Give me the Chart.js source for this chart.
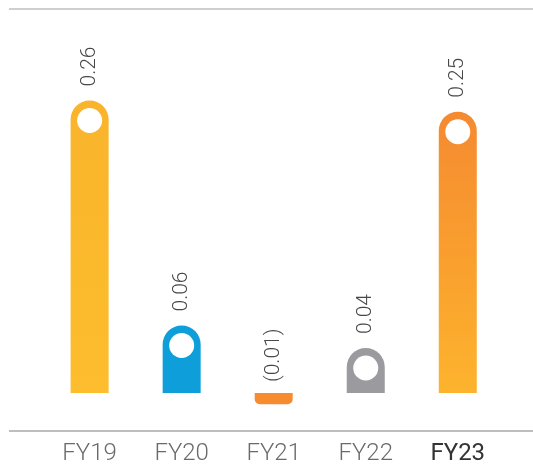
<!DOCTYPE html>
<html><head><meta charset="utf-8">
<script src="https://cdn.jsdelivr.net/npm/chart.js@4"></script>
<style>html,body{margin:0;padding:0;background:#fff}</style>
</head><body>
<canvas id="c" width="533" height="469" style="width:533px;height:469px;display:block"></canvas>
<script>
const categories = ['FY19', 'FY20', 'FY21', 'FY22', 'FY23'];
const values = [0.26, 0.06, -0.01, 0.04, 0.25];
const valueLabels = ['0.26', '0.06', '(0.01)', '0.04', '0.25'];
const topColors = ['#F9B42B', '#0E9FDB', '#F68B30', '#9B9B9F', '#F58A30'];
const bottomColors = ['#FDBD2D', '#0E9FDB', '#F68B30', '#9B9B9F', '#FDB32D'];

const FONT = 'Roboto, "Open Sans", sans-serif';

const decor = {
  id: 'decor',
  afterDraw(chart) {
    const c = chart.ctx;
    c.save();
    c.strokeStyle = '#cfcfcf'; c.lineWidth = 2;
    c.beginPath(); c.moveTo(9, 9); c.lineTo(533, 9); c.stroke();
    c.strokeStyle = '#a8a8a8'; c.lineWidth = 1.5;
    c.beginPath(); c.moveTo(9, 431); c.lineTo(533, 431); c.stroke();
    c.restore();
  },
  afterDatasetsDraw(chart) {
    const c = chart.ctx;
    const meta = chart.getDatasetMeta(0);
    c.save();
    meta.data.forEach((bar, i) => {
      const v = values[i];
      let ly;
      if (v > 0) {
        c.fillStyle = '#ffffff';
        c.beginPath(); c.arc(bar.x, bar.y + 20, 12.5, 0, Math.PI * 2); c.fill();
        ly = bar.y - 14;
      } else {
        ly = bar.base - 11;
      }
      c.save();
      c.translate(bar.x, ly);
      c.rotate(-Math.PI / 2);
      c.fillStyle = '#474747';
      c.font = '300 21px ' + FONT;
      c.textAlign = 'left';
      c.textBaseline = 'middle';
      c.fillText(valueLabels[i], 0, 0);
      c.restore();
    });
    c.restore();
  }
};

new Chart(document.getElementById('c'), {
  type: 'bar',
  data: {
    labels: categories,
    datasets: [{
      data: values,
      backgroundColor: (ctx) => {
        const i = ctx.dataIndex;
        const chart = ctx.chart;
        if (!chart.chartArea || !chart.scales || !chart.scales.y || ctx.type !== 'data') return topColors[i];
        const y0 = chart.scales.y.getPixelForValue(values[i]);
        const y1 = chart.scales.y.getPixelForValue(0);
        if (!isFinite(y0) || !isFinite(y1) || y0 === y1) return topColors[i];
        const g = chart.ctx.createLinearGradient(0, y0, 0, y1);
        g.addColorStop(0, topColors[i]);
        g.addColorStop(1, bottomColors[i]);
        return g;
      },
      borderRadius: (ctx) => (values[ctx.dataIndex] < 0 ? 5 : 19),
      borderSkipped: 'start',
      barPercentage: 1,
      categoryPercentage: 0.413
    }]
  },
  options: {
    responsive: false,
    animation: false,
    devicePixelRatio: 1,
    layout: { padding: { left: 43.6, right: 29.2, top: 55.5, bottom: 0 } },
    plugins: { legend: { display: false }, tooltip: { enabled: false } },
    scales: {
      y: { display: false, min: -0.03, max: 0.30 },
      x: {
        afterFit: (scale) => { scale.height = 42.25; },
        grid: { display: false, drawTicks: false },
        border: { display: false },
        ticks: {
          padding: 13.25,
          color: (ctx) => (ctx.index === 4 ? '#333333' : '#6a6a6a'),
          font: (ctx) => ({ family: FONT, size: 24, weight: ctx.index === 4 ? '400' : '300' })
        }
      }
    }
  },
  plugins: [decor]
});
</script>
</body></html>
